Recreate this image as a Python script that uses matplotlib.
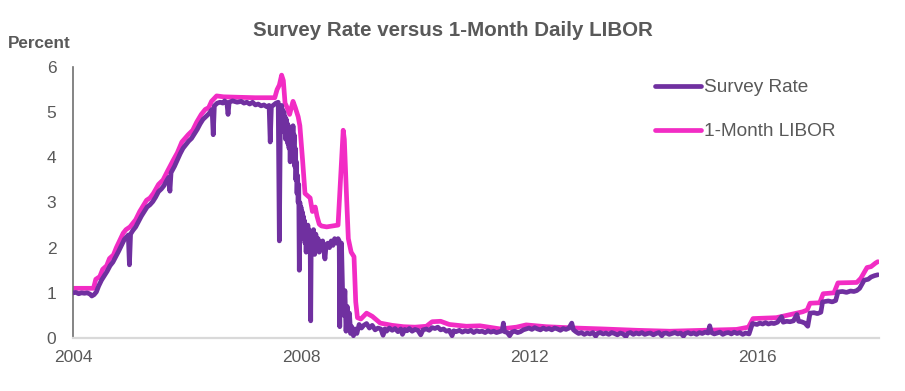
import matplotlib
matplotlib.use("Agg")
import matplotlib.pyplot as plt

plt.rcParams['font.family'] = ['Liberation Sans', 'DejaVu Sans']

# ---------------- data (decimal year, percent) ----------------
libor_2004_2007 = [
    (2004.00, 1.10), (2004.36, 1.10), (2004.40, 1.30), (2004.47, 1.36), (2004.52, 1.52),
    (2004.59, 1.60), (2004.64, 1.76), (2004.71, 1.84), (2004.76, 2.00), (2004.88, 2.32),
    (2004.93, 2.40), (2005.00, 2.46), (2005.10, 2.62), (2005.17, 2.80), (2005.29, 3.05),
    (2005.35, 3.10), (2005.41, 3.20), (2005.50, 3.40), (2005.58, 3.50), (2005.66, 3.70),
    (2005.76, 3.94), (2005.83, 4.10), (2005.91, 4.34), (2006.02, 4.50), (2006.10, 4.60),
    (2006.17, 4.78), (2006.25, 4.95), (2006.32, 5.06), (2006.38, 5.10), (2006.43, 5.24),
    (2006.52, 5.36), (2006.64, 5.34), (2006.90, 5.33), (2007.20, 5.32), (2007.40, 5.32),
    (2007.54, 5.32)]
libor_2007_2009 = [
    (2007.58, 5.50), (2007.62, 5.60), (2007.66, 5.82), (2007.69, 5.70), (2007.72, 5.20),
    (2007.75, 5.12), (2007.80, 4.95), (2007.86, 5.24), (2007.90, 5.10), (2007.95, 4.90),
    (2007.98, 4.70), (2008.03, 3.90), (2008.07, 3.20), (2008.16, 3.10), (2008.20, 2.80),
    (2008.25, 2.90), (2008.28, 2.70), (2008.32, 2.52), (2008.36, 2.48), (2008.45, 2.46),
    (2008.55, 2.48), (2008.65, 2.50), (2008.68, 3.20), (2008.71, 3.90), (2008.74, 4.60),
    (2008.76, 4.40), (2008.80, 3.10), (2008.83, 2.20), (2008.88, 1.90), (2008.93, 1.80),
    (2008.96, 0.80), (2008.99, 0.45)]
libor_2009_2018 = [
    (2009.05, 0.42), (2009.15, 0.55), (2009.25, 0.48), (2009.39, 0.33), (2009.60, 0.28),
    (2009.80, 0.25), (2010.00, 0.24), (2010.20, 0.26), (2010.30, 0.36), (2010.45, 0.37),
    (2010.60, 0.30), (2010.90, 0.26), (2011.14, 0.27), (2011.50, 0.20), (2011.78, 0.24),
    (2011.95, 0.29), (2012.30, 0.25), (2012.83, 0.22), (2013.30, 0.20), (2013.90, 0.17),
    (2014.47, 0.15), (2015.05, 0.17), (2015.64, 0.19), (2015.85, 0.24), (2015.93, 0.43),
    (2016.34, 0.45), (2016.80, 0.58), (2016.88, 0.62), (2016.93, 0.77), (2017.10, 0.78),
    (2017.16, 0.98), (2017.35, 1.00), (2017.42, 1.22), (2017.75, 1.23), (2017.82, 1.32),
    (2017.93, 1.56), (2018.00, 1.58), (2018.08, 1.66), (2018.12, 1.69)]

survey_2004_2007 = [
    (2004.00, 1.00), (2004.05, 1.01), (2004.10, 0.98), (2004.15, 1.00), (2004.20, 0.99),
    (2004.25, 1.00), (2004.30, 0.97), (2004.33, 0.93), (2004.37, 0.96), (2004.41, 1.02),
    (2004.45, 1.15), (2004.50, 1.28), (2004.55, 1.38), (2004.60, 1.48), (2004.65, 1.60),
    (2004.70, 1.68), (2004.75, 1.80), (2004.80, 1.92), (2004.85, 2.05), (2004.90, 2.18),
    (2004.97, 2.28), (2004.99, 1.62), (2005.01, 2.30), (2005.05, 2.38), (2005.10, 2.46),
    (2005.15, 2.58), (2005.20, 2.70), (2005.25, 2.80), (2005.30, 2.90), (2005.35, 2.95),
    (2005.40, 3.02), (2005.45, 3.12), (2005.50, 3.24), (2005.55, 3.30), (2005.60, 3.38),
    (2005.65, 3.50), (2005.68, 3.56), (2005.70, 3.25), (2005.72, 3.66), (2005.78, 3.80),
    (2005.83, 3.94), (2005.88, 4.08), (2005.93, 4.20), (2005.98, 4.28), (2006.03, 4.36),
    (2006.08, 4.42), (2006.13, 4.52), (2006.18, 4.62), (2006.23, 4.74), (2006.28, 4.84),
    (2006.33, 4.90), (2006.38, 4.96), (2006.44, 5.06), (2006.46, 4.50), (2006.48, 5.14),
    (2006.53, 5.20), (2006.58, 5.22), (2006.63, 5.20), (2006.66, 5.25), (2006.70, 5.20),
    (2006.72, 4.95), (2006.74, 5.22), (2006.80, 5.25), (2006.88, 5.22), (2006.95, 5.24),
    (2007.00, 5.20), (2007.05, 5.22), (2007.10, 5.18), (2007.15, 5.22), (2007.20, 5.16),
    (2007.25, 5.18), (2007.30, 5.14), (2007.35, 5.16), (2007.40, 5.12), (2007.44, 5.15),
    (2007.46, 4.34), (2007.48, 5.12), (2007.52, 5.16), (2007.56, 5.20), (2007.60, 5.22),
    (2007.62, 2.15)]
survey_2007_2009 = [
    (2007.64, 5.10), (2007.65, 4.90), (2007.66, 5.15), (2007.67, 4.60), (2007.68, 5.05),
    (2007.69, 4.70), (2007.70, 5.00), (2007.71, 4.55), (2007.72, 4.90), (2007.73, 4.40),
    (2007.74, 4.85), (2007.75, 4.50), (2007.76, 4.75), (2007.77, 4.30), (2007.78, 4.70),
    (2007.79, 4.20), (2007.80, 4.60), (2007.81, 3.90), (2007.82, 4.55), (2007.83, 4.20),
    (2007.84, 4.65), (2007.85, 4.30), (2007.86, 4.70), (2007.87, 4.10), (2007.88, 4.50),
    (2007.89, 3.80), (2007.90, 4.20), (2007.91, 3.50), (2007.92, 3.90), (2007.93, 3.20),
    (2007.94, 3.60), (2007.95, 3.00), (2007.96, 3.40), (2007.97, 1.50), (2007.98, 3.00),
    (2007.99, 2.60), (2008.00, 2.90), (2008.01, 2.40), (2008.02, 2.80), (2008.03, 2.30),
    (2008.04, 2.70), (2008.05, 2.20), (2008.06, 2.60), (2008.07, 2.10), (2008.08, 2.50),
    (2008.09, 1.90), (2008.10, 2.40), (2008.11, 2.10), (2008.12, 2.50), (2008.13, 2.20),
    (2008.14, 2.40), (2008.15, 2.00), (2008.16, 2.30), (2008.17, 0.38), (2008.18, 2.30),
    (2008.20, 2.10), (2008.22, 2.40), (2008.24, 1.85), (2008.26, 2.30), (2008.28, 2.00),
    (2008.30, 2.20), (2008.32, 1.90), (2008.34, 2.10), (2008.36, 2.00), (2008.38, 2.15),
    (2008.40, 1.95), (2008.42, 1.75), (2008.44, 2.05), (2008.47, 2.10), (2008.50, 2.00),
    (2008.53, 2.15), (2008.56, 2.05), (2008.59, 2.20), (2008.62, 2.10), (2008.65, 2.20),
    (2008.67, 2.15), (2008.68, 0.25), (2008.69, 1.90), (2008.71, 2.10), (2008.73, 1.00),
    (2008.75, 0.50), (2008.77, 1.05), (2008.79, 0.15), (2008.81, 0.70), (2008.83, 0.30),
    (2008.85, 0.55), (2008.87, 0.10), (2008.89, 0.25), (2008.92, 0.05), (2008.95, 0.20),
    (2008.98, 0.10)]
survey_2009_2012 = [
    (2009.02, 0.30), (2009.06, 0.22), (2009.10, 0.28), (2009.15, 0.32), (2009.20, 0.22),
    (2009.25, 0.28), (2009.30, 0.18), (2009.35, 0.22), (2009.40, 0.20), (2009.44, 0.06),
    (2009.47, 0.20), (2009.50, 0.15), (2009.55, 0.22), (2009.60, 0.17), (2009.65, 0.21),
    (2009.70, 0.14), (2009.75, 0.20), (2009.78, 0.08), (2009.82, 0.19), (2009.86, 0.16),
    (2009.90, 0.21), (2009.95, 0.15), (2010.00, 0.19), (2010.05, 0.17), (2010.10, 0.07),
    (2010.14, 0.18), (2010.20, 0.20), (2010.25, 0.17), (2010.30, 0.23), (2010.35, 0.21),
    (2010.40, 0.24), (2010.45, 0.18), (2010.50, 0.20), (2010.55, 0.15), (2010.60, 0.17),
    (2010.65, 0.05), (2010.68, 0.16), (2010.72, 0.14), (2010.78, 0.17), (2010.83, 0.13),
    (2010.88, 0.16), (2010.93, 0.14), (2010.98, 0.17), (2011.03, 0.12), (2011.08, 0.16),
    (2011.13, 0.14), (2011.18, 0.15), (2011.23, 0.12), (2011.28, 0.16), (2011.33, 0.13),
    (2011.38, 0.15), (2011.43, 0.12), (2011.48, 0.14), (2011.53, 0.16), (2011.55, 0.33),
    (2011.57, 0.14), (2011.62, 0.12), (2011.66, 0.05), (2011.70, 0.13), (2011.75, 0.15),
    (2011.80, 0.12), (2011.85, 0.14), (2011.90, 0.18)]
survey_2012_2015 = [
    (2011.95, 0.20), (2012.00, 0.22), (2012.05, 0.19), (2012.10, 0.23), (2012.15, 0.20),
    (2012.20, 0.18), (2012.25, 0.22), (2012.30, 0.19), (2012.35, 0.21), (2012.40, 0.18),
    (2012.45, 0.22), (2012.50, 0.20), (2012.55, 0.17), (2012.60, 0.21), (2012.65, 0.19),
    (2012.70, 0.22), (2012.75, 0.33), (2012.78, 0.18), (2012.82, 0.14), (2012.87, 0.10),
    (2012.92, 0.12), (2012.97, 0.08), (2013.02, 0.11), (2013.07, 0.09), (2013.12, 0.12),
    (2013.17, 0.04), (2013.20, 0.10), (2013.25, 0.12), (2013.30, 0.09), (2013.35, 0.11),
    (2013.40, 0.08), (2013.45, 0.12), (2013.50, 0.10), (2013.55, 0.07), (2013.60, 0.11),
    (2013.65, 0.09), (2013.70, 0.03), (2013.73, 0.10), (2013.78, 0.12), (2013.83, 0.08),
    (2013.88, 0.11), (2013.93, 0.09), (2013.98, 0.12), (2014.03, 0.08), (2014.08, 0.10),
    (2014.13, 0.11), (2014.18, 0.07), (2014.23, 0.10), (2014.28, 0.12), (2014.33, 0.05),
    (2014.36, 0.10), (2014.41, 0.11), (2014.46, 0.08), (2014.51, 0.10), (2014.56, 0.12),
    (2014.61, 0.09), (2014.66, 0.11), (2014.71, 0.04), (2014.74, 0.10), (2014.79, 0.12),
    (2014.84, 0.09), (2014.89, 0.11), (2014.94, 0.08), (2014.99, 0.12), (2015.04, 0.10),
    (2015.09, 0.13), (2015.14, 0.11), (2015.17, 0.27), (2015.20, 0.12), (2015.25, 0.09),
    (2015.30, 0.11), (2015.35, 0.13), (2015.40, 0.08), (2015.45, 0.11), (2015.50, 0.12),
    (2015.55, 0.09), (2015.60, 0.13), (2015.65, 0.10), (2015.70, 0.12), (2015.75, 0.08),
    (2015.80, 0.11), (2015.86, 0.09)]
survey_2016_2018 = [
    (2015.92, 0.32), (2016.00, 0.30), (2016.05, 0.33), (2016.10, 0.31), (2016.15, 0.34),
    (2016.20, 0.31), (2016.25, 0.33), (2016.30, 0.32), (2016.36, 0.35), (2016.43, 0.47),
    (2016.46, 0.35), (2016.52, 0.37), (2016.58, 0.36), (2016.64, 0.38), (2016.70, 0.52),
    (2016.73, 0.37), (2016.78, 0.36), (2016.84, 0.33), (2016.89, 0.26), (2016.93, 0.55),
    (2017.00, 0.56), (2017.06, 0.54), (2017.12, 0.57), (2017.15, 0.80), (2017.25, 0.82),
    (2017.32, 0.80), (2017.38, 0.83), (2017.42, 1.02), (2017.50, 1.03), (2017.57, 1.01),
    (2017.64, 1.04), (2017.70, 1.03), (2017.75, 1.05), (2017.80, 1.10), (2017.88, 1.28),
    (2017.95, 1.30), (2018.00, 1.35), (2018.06, 1.38), (2018.12, 1.40)]

series_labels = ["Survey Rate", "1-Month LIBOR"]
series_colors = ["#7030A0", "#F22CC4"]
x_ticks = [2004, 2008, 2012, 2016]
y_ticks = [0, 1, 2, 3, 4, 5, 6]

libor = libor_2004_2007 + libor_2007_2009 + libor_2009_2018
survey = (survey_2004_2007 + survey_2007_2009 + survey_2009_2012 +
          survey_2012_2015 + survey_2016_2018)
libor_t, libor_v = zip(*libor)
survey_t, survey_v = zip(*survey)

# ---------------- figure ----------------
W, H = 905, 391
fig = plt.figure(figsize=(W / 100, H / 100), dpi=100)
ax = fig.add_axes([73 / W, 1 - 338 / H, (879 - 73) / W, (338 - 67) / H])

lw = 3.4
ax.plot(survey_t, survey_v, color=series_colors[0], lw=lw, solid_joinstyle='round',
        solid_capstyle='round', label=series_labels[0], zorder=3)
ax.plot(libor_t, libor_v, color=series_colors[1], lw=lw, solid_joinstyle='round',
        solid_capstyle='round', label=series_labels[1], zorder=2)

ax.set_xlim(2004, 2018.14)
ax.set_ylim(0, 6)
ax.set_xticks(x_ticks)
ax.set_xticklabels([str(t) for t in x_ticks])
ax.set_yticks(y_ticks)
ax.set_yticklabels([str(t) for t in y_ticks])

grey = "#595959"
ax.tick_params(axis='both', length=0, labelsize=12.5, labelcolor=grey)
ax.tick_params(axis='y', pad=12)
ax.tick_params(axis='x', pad=9)

for s in ['top', 'right']:
    ax.spines[s].set_visible(False)
ax.spines['left'].set_color('#707070')
ax.spines['left'].set_linewidth(1.2)
ax.spines['bottom'].set_color('#D9D9D9')
ax.spines['bottom'].set_linewidth(1.6)

leg = ax.legend(loc='upper left', bbox_to_anchor=(655 / W, 1 - 79 / H),
                bbox_transform=fig.transFigure, frameon=False, fontsize=13.7,
                handlelength=2.4, handletextpad=0.15, labelspacing=1.4,
                borderpad=0, borderaxespad=0)
for t in leg.get_texts():
    t.set_color(grey)
for h in leg.get_lines():
    h.set_linewidth(lw)

fig.text(0.5, 1 - 30 / H, "Survey Rate versus 1-Month Daily LIBOR", ha='center', va='center',
         fontsize=14.8, fontweight='bold', color=grey)
fig.text(8 / W, 1 - 43 / H, "Percent", ha='left', va='center', fontsize=12.3,
         fontweight='bold', color=grey)

fig.savefig("out.png", dpi=100)
